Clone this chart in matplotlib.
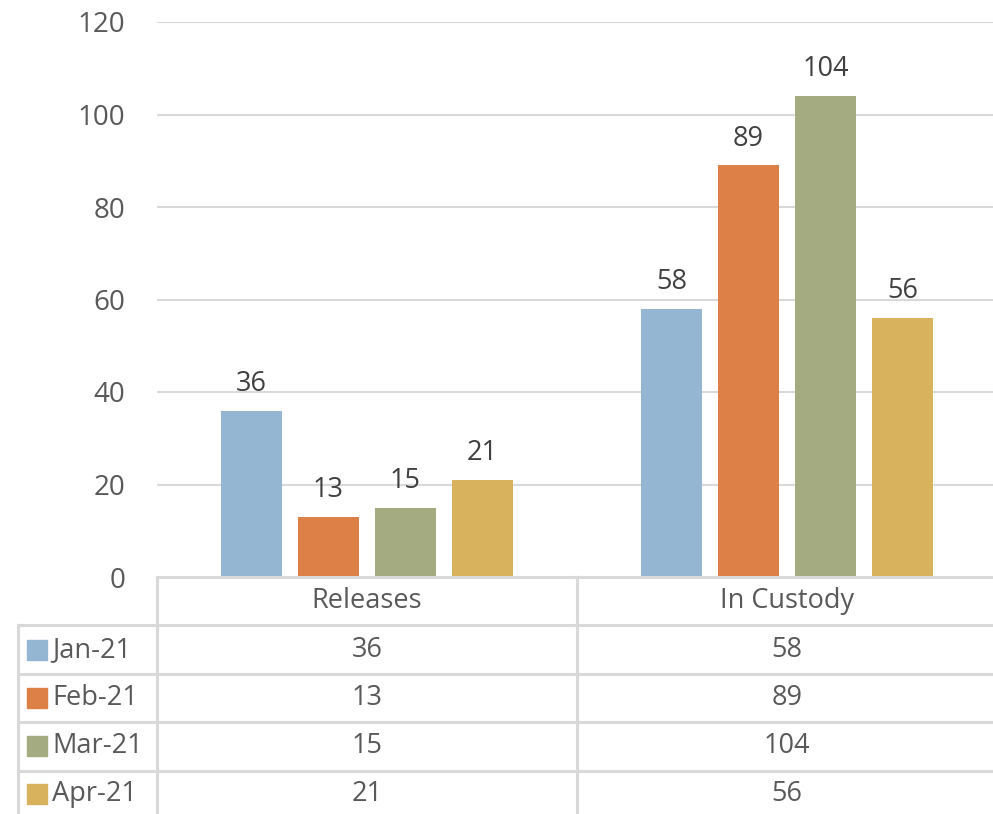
import numpy as np
import matplotlib.pyplot as plt

categories = ["Releases", "In Custody"]
months = ["Jan-21", "Feb-21", "Mar-21", "Apr-21"]
values = {
    "Jan-21": [36, 58],
    "Feb-21": [13, 89],
    "Mar-21": [15, 104],
    "Apr-21": [21, 56],
}
colors = ["#94b6d2", "#dd8047", "#a5ab81", "#d8b25c"]
yticks = [0, 20, 40, 60, 80, 100, 120]

plt.rcParams['font.family'] = ['Open Sans', 'DejaVu Sans']

W, H = 993, 814
fig = plt.figure(figsize=(W / 100, H / 100), dpi=100)

# plot area in pixels
left, right, top, bottom = 157, 993, 22, 577
ax = fig.add_axes([left / W, 1 - bottom / H, (right - left) / W, (bottom - top) / H])
cat_w = 420
ax.set_xlim(0, (right - left) / cat_w)
ax.set_ylim(0, 120)

grid_c = "#d9d9d9"
text_c = "#595959"
label_c = "#404040"

for t in yticks[1:]:
    ax.axhline(t, color=grid_c, lw=1.5, zorder=0)
ax.set_yticks(yticks)
ax.set_yticklabels([str(t) for t in yticks], fontsize=20, color=text_c)
ax.tick_params(axis="y", length=0, pad=23)
ax.set_xticks([])
for s in ax.spines.values():
    s.set_visible(False)

centers = np.arange(len(categories)) + 0.5
bar_w = 0.145
step = 0.183
for i, m in enumerate(months):
    xs = centers + (i - 1.5) * step
    bars = ax.bar(xs, values[m], width=bar_w, color=colors[i], zorder=2)
    for b, v in zip(bars, values[m]):
        ax.annotate(str(v), (b.get_x() + b.get_width() / 2, v),
                    xytext=(0, 9), textcoords="offset points",
                    ha="center", va="bottom", fontsize=19.5, color=label_c)

# data table below the plot
tab = fig.add_axes([0, 0, 1, 1], facecolor="none")
tab.set_xlim(0, W)
tab.set_ylim(H, 0)
tab.axis("off")

row_lines = [577, 625, 674, 722, 771]
lw = 2.2
tab.plot([left, W], [577, 577], color=grid_c, lw=lw)
for y in row_lines[1:]:
    tab.plot([18, W], [y, y], color=grid_c, lw=lw)
tab.plot([left, left], [577, H], color=grid_c, lw=lw)
tab.plot([577, 577], [577, H], color=grid_c, lw=lw)
tab.plot([18, 18], [625, H], color=grid_c, lw=lw)

col_x = [left + c * cat_w for c in centers]
for cx, name in zip(col_x, categories):
    tab.text(cx, 601, name, ha="center", va="center", fontsize=19.5, color=text_c)

row_mid = [650, 698, 746, 794]
for i, m in enumerate(months):
    y = row_mid[i]
    tab.add_patch(plt.Rectangle((27, y - 10), 20, 20, color=colors[i]))
    tab.text(52, y, m, ha="left", va="center", fontsize=19.5, color=text_c)
    for cx, v in zip(col_x, values[m]):
        tab.text(cx, y, str(v), ha="center", va="center", fontsize=19.5, color=text_c)

fig.savefig("out.png", dpi=100)
